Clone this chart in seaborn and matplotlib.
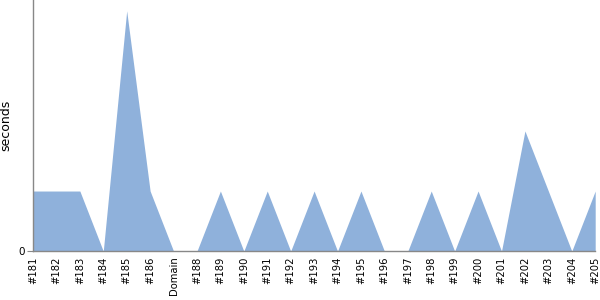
import matplotlib
matplotlib.use("Agg")
import matplotlib.pyplot as plt
import seaborn as sns
import numpy as np
import pandas as pd

labels = ["#181", "#182", "#183", "#184", "#185", "#186", "Domain", "#188", "#189", "#190",
          "#191", "#192", "#193", "#194", "#195", "#196", "#197", "#198", "#199", "#200",
          "#201", "#202", "#203", "#204", "#205"]
seconds = [1, 1, 1, 0, 4, 1, 0, 0, 1, 0,
           1, 0, 1, 0, 1, 0, 0, 1, 0, 1,
           0, 2, 1, 0, 1]

sns.set_style("white")
plt.rcParams['font.family'] = ['DejaVu Sans']

df = pd.DataFrame({"pos": np.arange(len(labels)), "seconds": seconds})

fig = plt.figure(figsize=(6, 3), dpi=100)
ax = fig.add_axes([0.055, 0.163, 0.937, 0.837])
color = "#8fb1db"
sns.lineplot(data=df, x="pos", y="seconds", ax=ax, color=color, linewidth=0)
ax.fill_between(df["pos"], df["seconds"], 0, color=color, linewidth=0)

ax.set_xlim(0, len(labels) - 1)
ax.set_ylim(0, 4.18)
ax.set_xticks(df["pos"])
ax.set_xticklabels(labels, rotation=90, fontsize=7.2, color="black")
ax.set_yticks([0])
ax.set_yticklabels(["0"], fontsize=7.5, color="black")
ax.set_xlabel("")
ax.set_ylabel("seconds", fontsize=9, color="black")
for s in ["top", "right"]:
    ax.spines[s].set_visible(False)
for s in ["left", "bottom"]:
    ax.spines[s].set_color("#888888")
    ax.spines[s].set_linewidth(1)
ax.tick_params(axis="y", left=True, length=4, color="#888888", pad=2)
ax.tick_params(axis="x", bottom=False, pad=0.5)

fig.savefig("out.png", dpi=100)
